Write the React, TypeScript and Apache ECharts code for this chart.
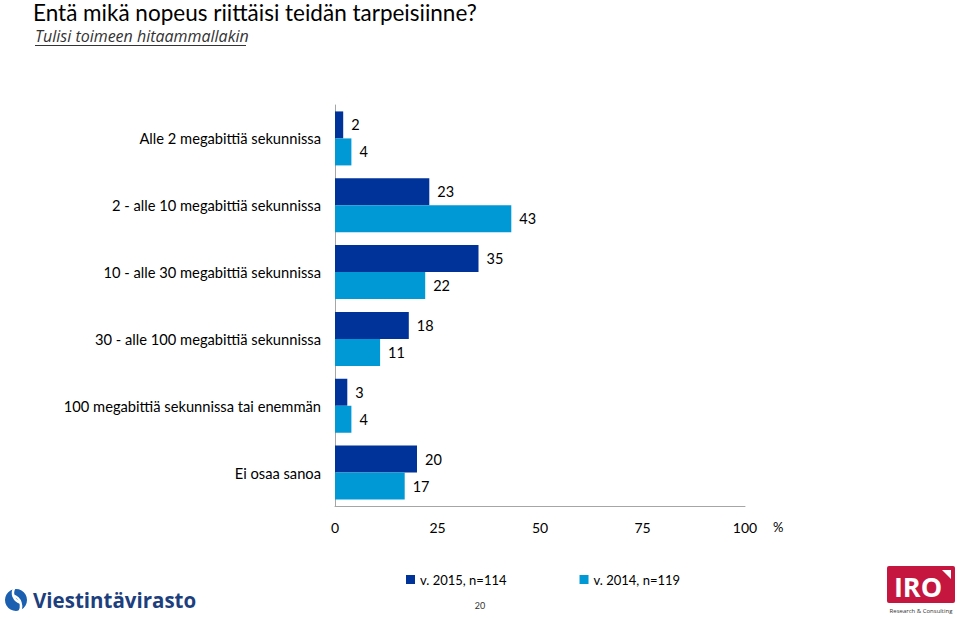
import React, { useEffect, useRef } from "react";
import * as echarts from "echarts";

const categories = [
  "Alle 2 megabittiä sekunnissa",
  "2 - alle 10 megabittiä sekunnissa",
  "10 - alle 30 megabittiä sekunnissa",
  "30 - alle 100 megabittiä sekunnissa",
  "100 megabittiä sekunnissa tai enemmän",
  "Ei osaa sanoa",
];
const values2015 = [2, 23, 35, 18, 3, 20];
const values2014 = [4, 43, 22, 11, 4, 17];
const seriesNames = ["v. 2015, n=114", "v. 2014, n=119"];
const xTicks = [0, 25, 50, 75, 100];

const FONT = "Lato, 'Open Sans', sans-serif";

export default function App() {
  const ref = useRef<HTMLDivElement>(null);
  useEffect(() => {
    if (!ref.current) return;
    const chart = echarts.init(ref.current, null, { renderer: "svg" });
    chart.setOption({
      animation: false,
      backgroundColor: "#ffffff",
      textStyle: { fontFamily: FONT },
      title: [
        {
          text: "Entä mikä nopeus riittäisi teidän tarpeisiinne?",
          left: 33,
          top: 1,
          padding: 0,
          textStyle: { fontSize: 22.5, lineHeight: 23, fontWeight: "normal", color: "#000", fontFamily: FONT },
        },
      ],
      grid: { left: 335, right: 215, top: 105, bottom: 113, containLabel: false },
      legend: {
        left: 401,
        top: 568,
        itemWidth: 9,
        itemHeight: 9,
        itemGap: 73,
        icon: "rect",
        textStyle: { fontSize: 13, color: "#000", fontFamily: FONT },
        data: seriesNames,
      },
      xAxis: {
        type: "value",
        min: 0,
        max: 100,
        interval: 25,
        axisLine: { show: true, lineStyle: { color: "#a6a6a6", width: 1 } },
        axisTick: { show: false },
        splitLine: { show: false },
        axisLabel: {
          fontSize: 14,
          color: "#000",
          margin: 14,
          formatter: (v: number) => (xTicks.includes(v) ? String(v) : ""),
        },
      },
      yAxis: {
        type: "category",
        inverse: true,
        data: categories,
        axisLine: { show: true, lineStyle: { color: "#a6a6a6", width: 1 } },
        axisTick: { show: false },
        axisLabel: { fontSize: 14.7, color: "#000", margin: 14 },
      },
      series: [
        {
          name: seriesNames[0],
          type: "bar",
          data: values2015,
          barWidth: 27,
          barGap: "0%",
          itemStyle: { color: "#00339A" },
          label: { show: true, position: "right", distance: 8, fontSize: 14.5, color: "#000" },
        },
        {
          name: seriesNames[1],
          type: "bar",
          data: values2014,
          barWidth: 27,
          barGap: "0%",
          itemStyle: { color: "#0099D6" },
          label: { show: true, position: "right", distance: 8, fontSize: 14.5, color: "#000" },
        },
      ],
      graphic: [
        {
          type: "text",
          left: 35,
          top: 28,
          style: {
            text: "Tulisi toimeen hitaammallakin",
            fontSize: 16,
            lineHeight: 16,
            fontStyle: "italic",
            fill: "#333",
            fontFamily: "'Open Sans', sans-serif",
          },
        },
        {
          type: "line",
          shape: { x1: 35, y1: 45.5, x2: 246, y2: 45.5 },
          style: { stroke: "#333", lineWidth: 1 },
        },
        {
          type: "text",
          x: 773,
          y: 527,
          style: { text: "%", fontSize: 13, fill: "#000", verticalAlign: "middle", fontFamily: FONT },
        },
        {
          type: "text",
          x: 480,
          y: 605,
          style: { text: "20", fontSize: 9, fill: "#333", align: "center", verticalAlign: "middle", fontFamily: FONT },
        },
        // Viestintävirasto logo
        {
          type: "circle",
          shape: { cx: 16, cy: 600, r: 11 },
          style: { fill: "#1b5fb0" },
        },
        {
          type: "arc",
          shape: { cx: 10, cy: 606, r: 11, startAngle: -1.3, endAngle: 0.7 },
          style: { stroke: "#ffffff", lineWidth: 2.5, fill: "none" },
        },
        {
          type: "arc",
          shape: { cx: 23, cy: 593, r: 10, startAngle: 1.8, endAngle: 3.7 },
          style: { stroke: "#ffffff", lineWidth: 2.5, fill: "none" },
        },
        {
          type: "text",
          x: 33,
          y: 600,
          style: {
            text: "Viestintävirasto",
            fontSize: 20.5,
            fontWeight: "bold",
            fill: "#1d3f7e",
            verticalAlign: "middle",
            fontFamily: "'Open Sans', sans-serif",
          },
        },
        // IRO logo
        {
          type: "rect",
          shape: { x: 887, y: 566, width: 68, height: 37, r: 2 },
          style: { fill: "#c4163f" },
        },
        {
          type: "polygon",
          shape: { points: [[942, 570], [951, 570], [951, 579]] },
          style: { fill: "#ffffff" },
        },
        {
          type: "text",
          x: 918,
          y: 586,
          style: {
            text: "IRO",
            fontSize: 27,
            fontWeight: "bold",
            fill: "#ffffff",
            align: "center",
            verticalAlign: "middle",
            fontFamily: "'Open Sans', sans-serif",
          },
        },
        {
          type: "text",
          x: 921,
          y: 611,
          style: {
            text: "Research & Consulting",
            fontSize: 6,
            fill: "#333",
            align: "center",
            verticalAlign: "middle",
            fontFamily: "'Open Sans', sans-serif",
          },
        },
      ],
    });
    return () => chart.dispose();
  }, []);
  return <div ref={ref} style={{ width: 960, height: 619, position: "absolute", left: 0, top: 0 }} />;
}
